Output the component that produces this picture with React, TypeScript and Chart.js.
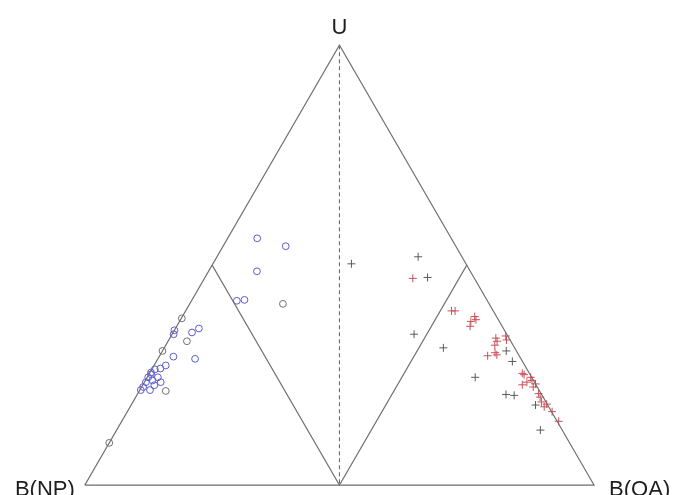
import React, { useEffect, useRef } from "react";
import { Chart, registerables } from "chart.js";

Chart.register(...registerables);

// Ternary compositions: U share and B(OA) share; B(NP) = 1 - U - OA.
const npBlueU = [0.561, 0.543, 0.486, 0.419, 0.421, 0.352, 0.343, 0.347, 0.356, 0.292, 0.272, 0.265, 0.287, 0.263, 0.252, 0.245, 0.238, 0.234, 0.245, 0.227, 0.223, 0.216, 0.234, 0.216, 0.256];
const npBlueOA = [0.058, 0.123, 0.095, 0.089, 0.103, 0.0, 0.003, 0.037, 0.046, 0.028, 0.023, 0.016, 0.073, 0.006, 0.004, 0.002, 0.014, 0.003, 0.021, 0.023, 0.003, 0.02, 0.032, 0.002, 0.002];
const npGrayU = [0.412, 0.379, 0.327, 0.305, 0.214, 0.096];
const npGrayOA = [0.183, 0.001, 0.037, 0.0, 0.052, 0.0];

const oaRedU = [0.47, 0.396, 0.396, 0.383, 0.376, 0.372, 0.361, 0.334, 0.339, 0.33, 0.327, 0.318, 0.294, 0.301, 0.296, 0.254, 0.251, 0.245, 0.238, 0.234, 0.228, 0.23, 0.223, 0.208, 0.2, 0.189, 0.184, 0.178, 0.167, 0.145];
const oaRedOA = [0.409, 0.522, 0.529, 0.574, 0.58, 0.572, 0.576, 0.64, 0.657, 0.663, 0.646, 0.646, 0.644, 0.655, 0.661, 0.732, 0.737, 0.753, 0.759, 0.751, 0.745, 0.77, 0.769, 0.787, 0.794, 0.802, 0.815, 0.813, 0.834, 0.858];
const oaGrayU = [0.503, 0.519, 0.472, 0.343, 0.312, 0.245, 0.305, 0.281, 0.206, 0.204, 0.182, 0.125];
const oaGrayOA = [0.272, 0.395, 0.437, 0.475, 0.548, 0.644, 0.675, 0.699, 0.724, 0.741, 0.794, 0.832];

const vertexLabels = ["U", "B(NP)", "B(OA)"];

// Ternary (U, OA) -> plane: x runs from B(NP) (0) to B(OA) (1), y is U.
const toXY = (u: number[], oa: number[]) => u.map((v, i) => ({ x: oa[i] + v / 2, y: v }));

const lineColor = "#6e6e6e";

const labelPlugin = {
  id: "vertexLabels",
  afterDraw(chart: any) {
    const { ctx, scales } = chart;
    const xs = scales.x;
    const ys = scales.y;
    ctx.save();
    ctx.fillStyle = "#1e1e1e";
    ctx.font = "22px 'Liberation Sans', Arial, sans-serif";
    ctx.textBaseline = "alphabetic";
    ctx.textAlign = "center";
    ctx.fillText(vertexLabels[0], xs.getPixelForValue(0.5), ys.getPixelForValue(1) - 11);
    ctx.textAlign = "right";
    ctx.fillText(vertexLabels[1], xs.getPixelForValue(0) - 10, ys.getPixelForValue(0) + 11);
    ctx.textAlign = "left";
    ctx.fillText(vertexLabels[2], xs.getPixelForValue(1) + 15, ys.getPixelForValue(0) + 11);
    ctx.restore();
  },
};

export default function App() {
  const ref = useRef<HTMLCanvasElement | null>(null);

  useEffect(() => {
    if (!ref.current) return;
    const lineDs = (pts: { x: number; y: number }[], dash: number[] = []) => ({
      type: "line" as const,
      data: pts,
      showLine: true,
      borderColor: lineColor,
      borderWidth: 1.1,
      borderDash: dash,
      pointRadius: 0,
      fill: false,
    });
    const chart = new Chart(ref.current, {
      type: "scatter",
      data: {
        datasets: [
          lineDs([{ x: 0, y: 0 }, { x: 1, y: 0 }, { x: 0.5, y: 1 }, { x: 0, y: 0 }]) as any,
          lineDs([{ x: 0.25, y: 0.5 }, { x: 0.5, y: 0 }, { x: 0.75, y: 0.5 }]) as any,
          lineDs([{ x: 0.5, y: 1 }, { x: 0.5, y: 0 }], [4, 3]) as any,
          {
            data: toXY(npBlueU, npBlueOA),
            pointStyle: "circle",
            pointRadius: 3.4,
            borderColor: "#5a5ad2",
            backgroundColor: "rgba(0,0,0,0)",
            borderWidth: 1,
          },
          {
            data: toXY(npGrayU, npGrayOA),
            pointStyle: "circle",
            pointRadius: 3.4,
            borderColor: "#707070",
            backgroundColor: "rgba(0,0,0,0)",
            borderWidth: 1,
          },
          {
            data: toXY(oaRedU, oaRedOA),
            pointStyle: "cross",
            pointRadius: 4,
            borderColor: "#c8505a",
            borderWidth: 1,
          },
          {
            data: toXY(oaGrayU, oaGrayOA),
            pointStyle: "cross",
            pointRadius: 4,
            borderColor: "#5a5a5a",
            borderWidth: 1,
          },
        ],
      },
      options: {
        animation: false,
        responsive: false,
        layout: { padding: 0 },
        plugins: { legend: { display: false }, tooltip: { enabled: false } },
        scales: {
          x: { type: "linear", display: false, min: -81 / 517, max: 1 + 75 / 517 },
          y: { type: "linear", display: false, min: -5 / 449, max: 1 + 41 / 449 },
        },
      },
      plugins: [labelPlugin],
    });
    return () => chart.destroy();
  }, []);

  return (
    <div style={{ position: "fixed", left: 0, top: 0, width: 673, height: 495, background: "#fff" }}>
      <canvas ref={ref} width={673} height={495} style={{ display: "block" }} />
    </div>
  );
}
